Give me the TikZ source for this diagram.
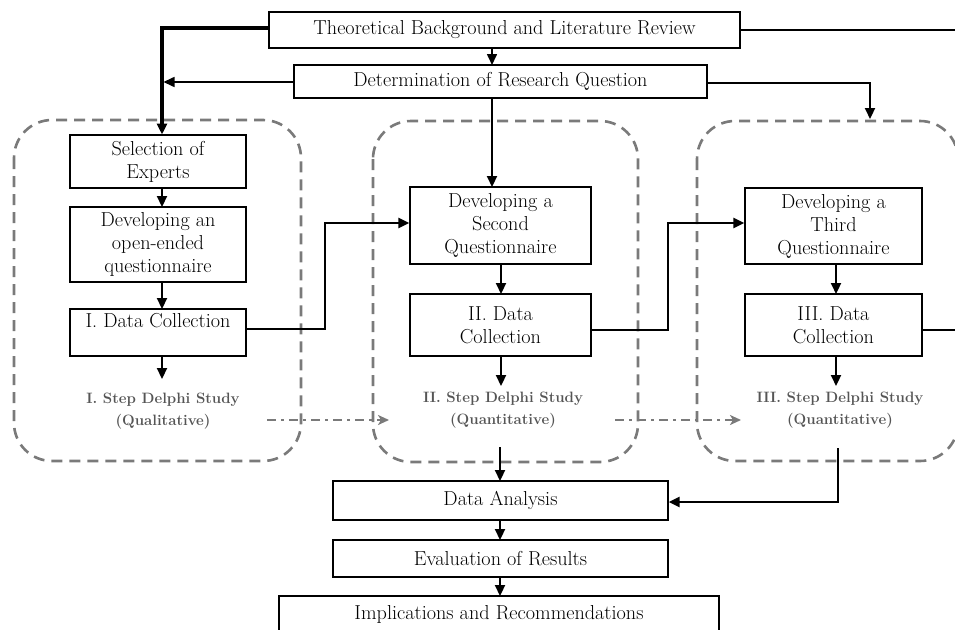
\documentclass[tikz,border=0pt]{standalone}
\usetikzlibrary{arrows.meta}
\definecolor{dashgray}{HTML}{7A7A7A}
\definecolor{labgray}{HTML}{555555}
\begin{document}
\begin{tikzpicture}[x=1pt,y=-1pt,
  box/.style={draw=black, line width=1.4pt, align=center, inner sep=0pt,
    font=\fontsize{20.2}{23}\selectfont},
  lab/.style={align=center, inner sep=0pt, text=labgray,
    font=\bfseries\fontsize{15}{22}\selectfont},
  group/.style={draw=dashgray, line width=2.6pt, rounded corners=38pt,
    dash pattern=on 11pt off 7pt},
  flow/.style={draw=black, line width=2.2pt, -{Triangle[length=11pt,width=10pt]}},
  flowthin/.style={draw=black, line width=1.6pt, -{Triangle[length=11pt,width=10pt]}},
  link/.style={draw=black, line width=2.8pt},
  dashdot/.style={draw=dashgray, line width=2pt,
    dash pattern=on 9pt off 5pt on 3pt off 5pt,
    -{Stealth[length=11pt,width=10pt,inset=3pt]}}]
\useasboundingbox (0,0) rectangle (955,629);
\clip (0,0) rectangle (955,629);
\fill[white] (0,0) rectangle (955,629);

% dashed group frames
\draw[group] (14,120) rectangle (301,461);
\draw[group] (373,121) rectangle (638,462);
\draw[group] (697,121) rectangle (958,461);

% nodes
\node[box, minimum width=471pt, minimum height=36pt] (top) at (504.5,30) {Theoretical Background and Literature Review};
\node[box, minimum width=413pt, minimum height=33pt] (det) at (500.5,81.5) {Determination of Research Question};

\node[box, minimum width=176pt, minimum height=53pt] (sel) at (158,161.5) {Selection of\\Experts};
\node[box, minimum width=176pt, minimum height=75pt] (dev1) at (158,244.5) {Developing an\\open-ended\\questionnaire};
\node[box, minimum width=176pt, minimum height=47pt] (dc1) at (158,332.5) {I. Data Collection\\[-6pt]\strut};
\node[lab] (lab1) at (163,411) {I. Step Delphi Study\\(Qualitative)};

\node[box, minimum width=181pt, minimum height=77pt] (dev2) at (500.5,225.5) {Developing a\\Second\\Questionnaire};
\node[box, minimum width=181pt, minimum height=62pt] (dc2) at (500.5,325) {II. Data\\Collection};
\node[lab] (lab2) at (503,410) {II. Step Delphi Study\\(Quantitative)};

\node[box, minimum width=177pt, minimum height=76pt] (dev3) at (833.5,226) {Developing a\\Third\\Questionnaire};
\node[box, minimum width=177pt, minimum height=62pt] (dc3) at (833.5,325) {III. Data\\Collection};
\node[lab] (lab3) at (840,410) {III. Step Delphi Study\\(Quantitative)};

\node[box, minimum width=335pt, minimum height=39pt] (da) at (500.5,500.5) {Data Analysis};
\node[box, minimum width=335pt, minimum height=37pt] (ev) at (500.5,558.5) {Evaluation of Results};
\node[box, minimum width=440pt, minimum height=36pt] (imp) at (499,614) {Implications and Recommendations};

% free ends
\coordinate (edgeTop) at (960,30);
\coordinate (edgeDc3) at (960,330);
\coordinate (g2bot) at (500,447);
\coordinate (g3bot) at (838,448);

% connectors
\draw[link, line width=3.2pt, -{Triangle[length=11pt,width=10pt]}] (top.west |- 0,28) -| (162,134.5);
\draw[link, line width=2.4pt] (top.east |- 0,30) -- (edgeTop);
\draw[flowthin] (492,48) -- (492,65);
\draw[flowthin] (det.west |- 0,82) -- (163.5,82);
\draw[flow] (det.east |- 0,83) -| (870,119);
\draw[flow] (492,98) -- (492,187);

\draw[flow] (162,188) -- (162,207);
\draw[flow] (162,282) -- (162,309);
\draw[flow] (162,356) -- (162,379);
\draw[link, -{Triangle[length=11pt,width=10pt]}] (dc1.east |- 0,329) -- (325,329) |- (dev2.west |- 0,223);

\draw[flow] (501,264) -- (501,294);
\draw[flow] (501,356) -- (501,386);
\draw[link, -{Triangle[length=11pt,width=10pt]}] (dc2.east |- 0,330) -- (668,330) |- (dev3.west |- 0,223);

\draw[flow] (836,264) -- (836,294);
\draw[flow] (836,356) -- (836,386);
\draw[link] (dc3.east |- 0,330) -- (edgeDc3);

\draw[flow] (g2bot) -- (500,481);
\draw[link, -{Triangle[length=11pt,width=10pt]}] (g3bot) |- (da.east |- 0,502);
\draw[flow] (500,520) -- (500,540);
\draw[flow] (500,577) -- (500,596);

% dash-dot arrows between steps
\draw[dashdot] (267,420) -- (389,420);
\draw[dashdot] (615,420) -- (741,420);
\end{tikzpicture}
\end{document}
